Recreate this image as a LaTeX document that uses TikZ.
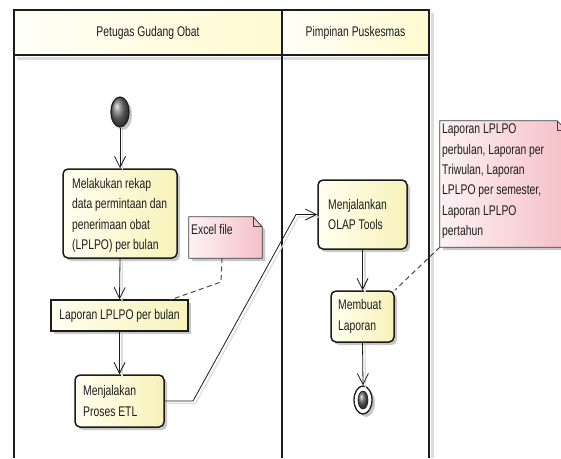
\documentclass[tikz,border=0pt]{standalone}
\usepackage{fontspec}
\setmainfont[FakeStretch=0.74]{Liberation Sans}
\usetikzlibrary{arrows.meta,shadows,shapes.geometric}
\definecolor{ink}{RGB}{28,28,28}
\definecolor{laneL}{RGB}{255,255,248}
\definecolor{laneR}{RGB}{255,250,208}
\definecolor{actL}{RGB}{255,255,240}
\definecolor{actR}{RGB}{248,242,186}
\definecolor{noteL}{RGB}{253,242,244}
\definecolor{noteR}{RGB}{244,192,198}
\definecolor{shadegray}{RGB}{220,220,220}
\begin{document}
\begin{tikzpicture}[x=1pt,y=-1pt,
  every node/.style={font=\fontsize{14}{20.3}\selectfont, text=ink},
  softshadow/.style={drop shadow={shadow xshift=3pt,shadow yshift=-3pt,opacity=0.22,fill=black}},
  lanehead/.style={draw=ink, line width=1.8pt, left color=laneL, right color=laneR, inner sep=0pt},
  laneline/.style={draw=ink, line width=1.8pt},
  laneshadow/.style={draw=shadegray, line width=3pt},
  action/.style={draw=ink, line width=1.5pt, rounded corners=5pt, left color=actL, right color=actR, softshadow, inner sep=0pt},
  objectbox/.style={draw=ink, line width=1.5pt, left color=actL, right color=actR, softshadow, inner sep=0pt},
  lbl/.style={inner sep=0pt, align=left},
  notearea/.style={inner sep=0pt},
  notefill/.style={left color=noteL, right color=noteR, softshadow},
  noteline/.style={draw=black!75, line width=0.8pt, line join=miter},
  flow/.style={draw=ink, line width=0.8pt, -{Straight Barb[length=11pt,width=11pt,line width=0.8pt]},
    preaction={draw=shadegray, line width=1.2pt, arrows=-, transform canvas={shift={(2.5pt,-2.5pt)}}}},
  anchorline/.style={draw=black!70, line width=1pt, dash pattern=on 5pt off 3.5pt},
  startnode/.style={ellipse, draw=ink, line width=1.2pt, ball color=black!55, minimum width=18pt, minimum height=30pt, inner sep=0pt, softshadow},
  finishring/.style={ellipse, draw=ink, line width=1.3pt, fill=white, minimum width=18pt, minimum height=28pt, inner sep=0pt, softshadow},
  finishcore/.style={ellipse, draw=ink, line width=0.6pt, ball color=black!60, minimum width=10pt, minimum height=18pt, inner sep=0pt}
]
\useasboundingbox (0,0) rectangle (561,458);
\fill[white] (0,0) rectangle (561,458);
\clip (0,0) rectangle (561,458);

% swimlane shadows
\draw[laneshadow] (17,58.5) -- (430,58.5);
\draw[laneshadow] (432.5,13) -- (432.5,458);

% swimlane headers
\node[lanehead, minimum width=268pt, minimum height=45pt] (laneA) at (148,32.5) {Petugas Gudang Obat};
\node[lanehead, minimum width=147pt, minimum height=45pt] (laneB) at (355.5,32.5) {Pimpinan Puskesmas};

% swimlane frame
\draw[laneline] (14,458) -- (14,10) -- (429,10) -- (429,458);
\draw[laneline] (282,10) -- (282,458);
\draw[laneline] (14,55) -- (429,55);

% notes
\node[notearea, minimum width=73pt, minimum height=41pt] (excel) at (225.5,237.5) {};
\path[notefill] (excel.north west) -- ([xshift=-9pt]excel.north east) -- ([yshift=-10pt]excel.north east)
  -- (excel.south east) -- (excel.south west) -- cycle;
\draw[noteline] (excel.north west) -- ([xshift=-9pt]excel.north east) -- ([yshift=-10pt]excel.north east)
  -- (excel.south east) -- (excel.south west) -- cycle;
\draw[noteline] ([xshift=-9pt]excel.north east) -- ++(0,10) -- ++(9,0);
\node[lbl, anchor=north west] (exceltext) at (191,224) {Excel file};

\node[notearea, minimum width=127pt, minimum height=126pt] (rnote) at (503.5,184) {};
\path[notefill] (rnote.north west) -- ([xshift=-10pt]rnote.north east) -- ([yshift=-10pt]rnote.north east)
  -- (rnote.south east) -- (rnote.south west) -- cycle;
\draw[noteline] (rnote.north west) -- ([xshift=-10pt]rnote.north east) -- ([yshift=-10pt]rnote.north east)
  -- (rnote.south east) -- (rnote.south west) -- cycle;
\draw[noteline] ([xshift=-10pt]rnote.north east) -- ++(0,10) -- ++(10,0);
\node[lbl, anchor=north west] (rnotetext) at (442,124) {Laporan LPLPO\\perbulan, Laporan per\\Triwulan, Laporan\\LPLPO per semester,\\Laporan LPLPO\\pertahun};

% activities
\node[startnode] (start) at (120,112) {};

\node[action, minimum width=114pt, minimum height=89pt] (rekap) at (120,213.5) {};
\node[lbl, anchor=west] (rekaptext) at (72,215.5) {Melakukan rekap\\data permintaan dan\\penerimaan obat\\(LPLPO) per bulan};

\node[objectbox, minimum width=137pt, minimum height=31pt] (laporan) at (119.5,315.5) {Laporan LPLPO per bulan};

\node[action, minimum width=89pt, minimum height=52pt] (etl) at (119.5,401) {};
\node[lbl, anchor=west] (etltext) at (83,401) {Menjalakan\\Proses ETL};

\node[action, minimum width=89pt, minimum height=69pt] (olap) at (362.5,214.5) {};
\node[lbl, anchor=west] (olaptext) at (328,214.5) {Menjalankan\\OLAP Tools};

\node[action, minimum width=63pt, minimum height=51pt] (membuat) at (362.5,316.5) {};
\node[lbl, anchor=west] (membuattext) at (338,316.5) {Membuat\\Laporan};

\node[finishring] (finish) at (363,400) {};
\node[finishcore] (finishdot) at (finish.center) {};

% control flow
\draw[flow] (start.south) -- (rekap.north);
\draw[flow] (rekap.south) -- (laporan.north);
\draw[flow] (laporan.south) -- (etl.north);
\coordinate (etlA) at (193,401);
\coordinate (etlB) at (296,214.5);
\draw[flow] (etl.east) -- (etlA) -- (etlB) -- (olap.west);
\draw[flow] (olap.south) -- (membuat.north);
\draw[flow] (membuat.south) -- (finish.north);

% note anchors
\coordinate (exS) at (222,258);
\coordinate (exB) at (221,282);
\coordinate (exE) at (170,300);
\draw[anchorline] (exS) -- (exB) -- (exE);
\draw[anchorline] (rnote.south west) -- (membuat.north east);
\end{tikzpicture}
\end{document}
